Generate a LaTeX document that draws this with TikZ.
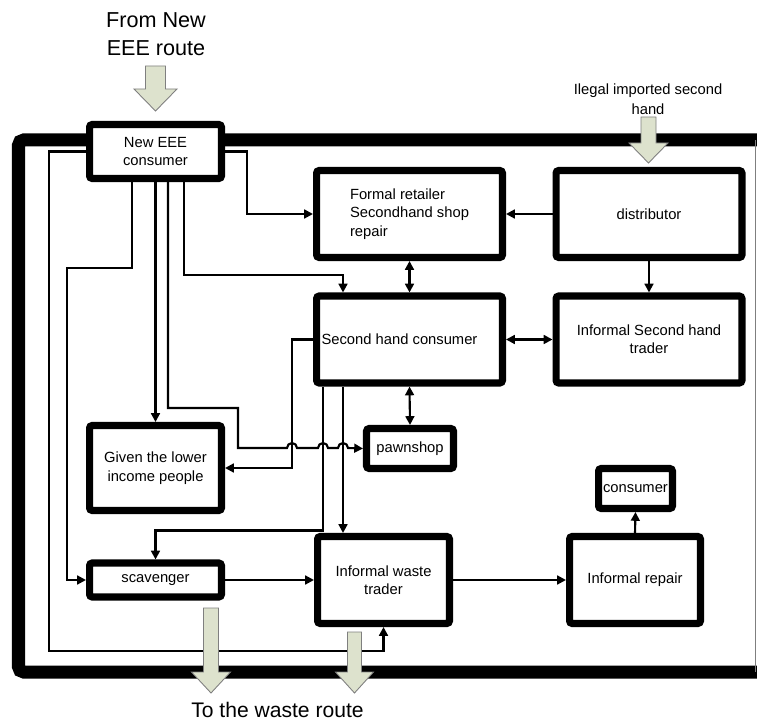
\documentclass[tikz,border=0pt]{standalone}
\usepackage{fontspec}
\setmainfont{Liberation Sans}
\usetikzlibrary{arrows.meta}
\definecolor{RouteFill}{HTML}{DDE2CD}
\definecolor{RouteEdge}{HTML}{7F7F7F}

\begin{document}
\begin{tikzpicture}[x=0.02cm, y=-0.02cm, font=\fontsize{8.4}{10.5}\selectfont,
  actor/.style={draw, line width=4pt, fill=white, rounded corners=1.5pt, align=center, inner sep=0pt},
  flow/.style={line width=1.2pt, -{Triangle[length=5pt, width=5pt]}},
  twoway/.style={line width=1.2pt, {Triangle[length=5pt, width=5pt]}-{Triangle[length=5pt, width=5pt]}},
  route/.style={draw=RouteEdge, fill=RouteFill, line width=0.5pt}]
  \useasboundingbox (0,0) rectangle (757,722);

  % outer system border
  \draw[line width=7.4pt, rounded corners=3pt] (18.5,140) rectangle (775,672);
  \draw[line width=0.6pt, RouteEdge] (755.5,140) -- (755.5,672);

  \node[actor, minimum width=2.64cm, minimum height=1.08cm] (neweee) at (155.5,151.5) {New EEE\\consumer};
  \node[actor, minimum width=3.72cm, minimum height=1.74cm, align=left] (formal) at (409.5,214) {Formal retailer\\Secondhand shop\\repair};
  \node[actor, minimum width=3.72cm, minimum height=1.74cm] (distrib) at (649,214) {distributor};
  \node[actor, minimum width=3.72cm, minimum height=1.74cm] (shcons) at (409.5,339.5) {Second hand consumer\hspace{0.4cm}};
  \node[actor, minimum width=3.72cm, minimum height=1.74cm] (infsh) at (649,339.5) {Informal Second hand\\trader};
  \node[actor, minimum width=1.74cm, minimum height=0.8cm] (pawn) at (410,448.5) {pawnshop};
  \node[actor, minimum width=2.64cm, minimum height=1.7cm] (given) at (155.5,468) {Given the lower\\income people};
  \node[actor, minimum width=1.48cm, minimum height=0.8cm] (cons) at (635.5,488.5) {consumer};
  \node[actor, minimum width=2.64cm, minimum height=0.68cm] (scav) at (155.5,580) {scavenger};
  \node[actor, minimum width=2.64cm, minimum height=1.74cm] (iwt) at (383.5,580) {Informal waste\\trader};
  \node[actor, minimum width=2.62cm, minimum height=1.74cm] (irepair) at (635,580) {Informal repair};

  \node[font=\fontsize{12.3}{15.9}\selectfont, align=center] (fromnew) at (156,34) {From New\\EEE route};
  \node[align=center, font=\fontsize{8.4}{11.3}\selectfont] (ilegal) at (648,99) {Ilegal imported second\\hand};
  \node[font=\fontsize{12}{14}\selectfont] (towaste) at (277.5,710) {To the waste route};

  % flows out of the new EEE consumer
  \draw[flow] (neweee.east) -- ++(22,0) |- (formal.west);
  \draw[flow] ([xshift=-0.47cm]neweee.south) -- ++(0,86) -- ++(-65,0) |- (scav.west);
  \draw[flow] (neweee.south) -- (given.north);
  \draw[flow] ([xshift=0.25cm]neweee.south) -- ++(0,226) -- ++(70,0) -- ++(0,40) -- (287,448)
    arc[start angle=180, end angle=0, radius=0.1cm] -- (318,448)
    arc[start angle=180, end angle=0, radius=0.1cm] -- (338,448)
    arc[start angle=180, end angle=0, radius=0.1cm] -- (pawn.west);
  \draw[flow] ([xshift=0.57cm]neweee.south) -- ++(0,93) -| ([xshift=-1.33cm]shcons.north);
  \draw[flow] (neweee.west) -- ++(-37,0) -- ++(0,499.5) -| (iwt.south);

  % second hand market
  \draw[flow] (distrib.west) -- (formal.east);
  \draw[flow] (distrib.south) -- (infsh.north);
  \draw[twoway] (formal.south) -- (shcons.north);
  \draw[twoway] (shcons.east) -- (infsh.west);
  \draw[twoway] (shcons.south) -- (pawn.north);
  \draw[flow] (shcons.west) -- ++(-21,0) |- (given.east);
  \draw[flow] ([xshift=-1.73cm]shcons.south) -- ++(0,144) -| (scav.north);
  \draw[flow] ([xshift=-1.33cm]shcons.south) -- ([xshift=-1.33cm]shcons.south |- iwt.north);

  % waste side
  \draw[flow] (scav.east) -- (iwt.west);
  \draw[flow] (iwt.east) -- (irepair.west);
  \draw[flow] (irepair.north) -- (cons.south);

  % routes in and out
  \draw[route] (145.5,66) -- (165.5,66) -- (165.5,89) -- (177,89) -- (155.5,111) -- (134,89) -- (145.5,89) -- cycle;
  \draw[route] (641,117) -- (656,117) -- (656,143) -- (668,143) -- (648.5,163) -- (629,143) -- (641,143) -- cycle;
  \draw[route] (203.5,608) -- (218.5,608) -- (218.5,672) -- (230.5,672) -- (211,693) -- (191.5,672) -- (203.5,672) -- cycle;
  \draw[route] (347.5,632) -- (361.5,632) -- (361.5,672) -- (373.5,672) -- (354.5,693) -- (335.5,672) -- (347.5,672) -- cycle;
\end{tikzpicture}
\end{document}
